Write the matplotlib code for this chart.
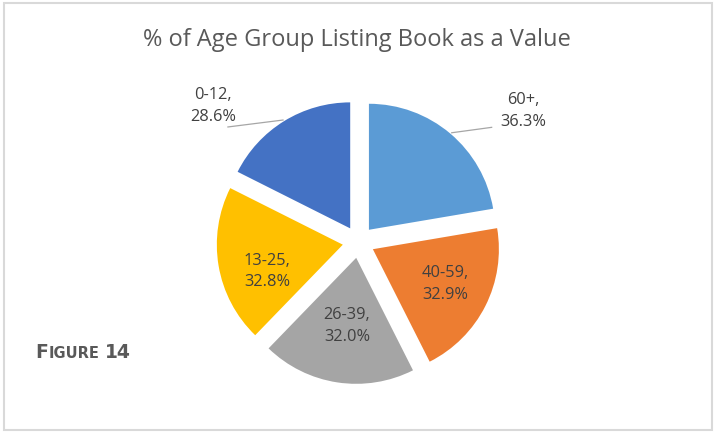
import matplotlib
matplotlib.use("Agg")
import matplotlib.pyplot as plt
from matplotlib.patches import Rectangle

# ---- data ----
categories = ["60+", "40-59", "26-39", "13-25", "0-12"]
values = [36.3, 32.9, 32.0, 32.8, 28.6]
value_labels = ["36.3%", "32.9%", "32.0%", "32.8%", "28.6%"]
colors = ["#5B9BD5", "#ED7D31", "#A5A5A5", "#FFC000", "#4472C4"]
title = "% of Age Group Listing Book as a Value"

# ---- layout ----
W, H = 716, 433
fig = plt.figure(figsize=(W / 100, H / 100), dpi=100)
fig.patch.set_facecolor("white")

# figure border
fig.patches.append(Rectangle((4 / W, 3 / H), (712 - 4) / W, (430 - 3) / H,
                             transform=fig.transFigure, fill=False,
                             edgecolor="#D9D9D9", linewidth=1.5))

cx, cy, r_px = 358.6, 242.0, 126.0
half = 170.0
ax = fig.add_axes([(cx - half) / W, (H - cy - half) / H, 2 * half / W, 2 * half / H])
lim = half / r_px

explode = [0.127] * len(values)
wedges, _ = ax.pie(values, colors=colors, startangle=90, counterclock=False,
                   explode=explode, radius=1.0,
                   wedgeprops=dict(linewidth=0))
ax.set_xlim(-lim, lim)
ax.set_ylim(-lim, lim)
ax.set_aspect("equal", adjustable="box")
ax.axis("off")

font = "Open Sans"
tcol = "#404040"
fs = 11.8

# label positions (data coords), per category
label_pos = {
    "60+": (1.305, 1.04),
    "40-59": (0.687, -0.333),
    "26-39": (-0.092, -0.667),
    "13-25": (-0.727, -0.234),
    "0-12": (-1.156, 1.079),
}
for cat, vl in zip(categories, value_labels):
    x, y = label_pos[cat]
    ax.text(x, y, f"{cat},\n{vl}", ha="center", va="center", fontsize=fs,
            color=tcol, family=font, linespacing=1.45, clip_on=False)

# leader lines
ax.plot([0.739, 1.056], [0.867, 0.910], color="#A6A6A6", lw=0.9, clip_on=False)
ax.plot([-0.60, -1.037], [0.968, 0.913], color="#A6A6A6", lw=0.9, clip_on=False)

# title
fig.text(357 / W, 1 - 40 / H, title, ha="center", va="center",
         fontsize=17, color="#595959", family=font)

# "FIGURE 14" in small caps
base_y = 1 - 358 / H
t1 = fig.text(35 / W, base_y, "F", ha="left", va="baseline",
              fontsize=13.5, color="#595959", family="DejaVu Sans", weight="bold")
t2 = fig.text(0, base_y, "IGURE", fontsize=10.5, color="#595959", family="DejaVu Sans",
              weight="bold", ha="left", va="baseline")
fig.canvas.draw()
r = fig.canvas.get_renderer()
bb1 = t1.get_window_extent(r)
t2.set_position(((bb1.x1 + 1) / W, base_y))
fig.canvas.draw()
bb2 = t2.get_window_extent(r)
fig.text((bb2.x1 + 5) / W, base_y, "14", fontsize=13.5, color="#595959",
         family="DejaVu Sans", weight="bold", ha="left", va="baseline")

fig.savefig("out.png", dpi=100, facecolor="white")
